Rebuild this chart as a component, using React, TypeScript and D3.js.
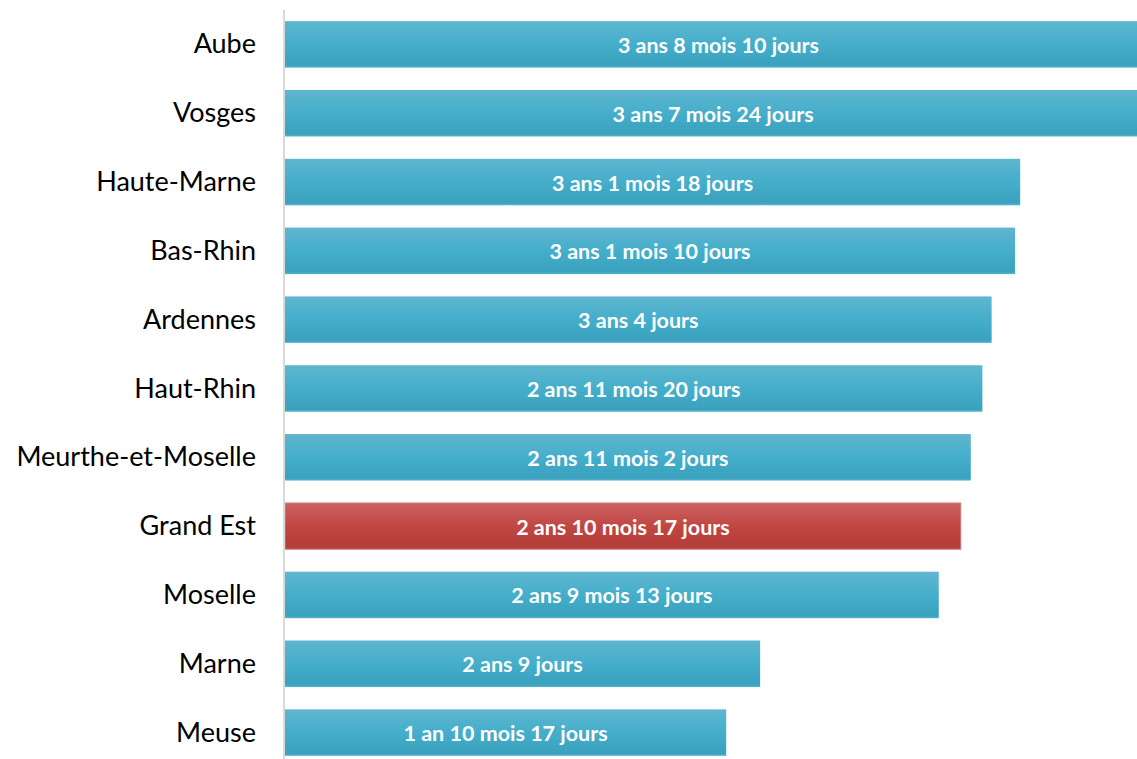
import React from 'react';
import * as d3 from 'd3';

const categories = [
  'Aube', 'Vosges', 'Haute-Marne', 'Bas-Rhin', 'Ardennes', 'Haut-Rhin',
  'Meurthe-et-Moselle', 'Grand Est', 'Moselle', 'Marne', 'Meuse',
];
// durations: [years, months, days]
const years = [3, 3, 3, 3, 3, 2, 2, 2, 2, 2, 1];
const months = [8, 7, 1, 1, 0, 11, 11, 10, 9, 0, 10];
const days = [10, 24, 18, 10, 4, 20, 2, 17, 13, 9, 17];
const valueLabels = [
  '3 ans 8 mois 10 jours', '3 ans 7 mois 24 jours', '3 ans 1 mois 18 jours',
  '3 ans 1 mois 10 jours', '3 ans 4 jours', '2 ans 11 mois 20 jours',
  '2 ans 11 mois 2 jours', '2 ans 10 mois 17 jours', '2 ans 9 mois 13 jours',
  '2 ans 9 jours', '1 an 10 mois 17 jours',
];
const highlight = 'Grand Est';

const width = 1137;
const height = 759;
const font = 'Lato, "Open Sans", sans-serif';

const totalDays = categories.map((_, i) => years[i] * 365 + months[i] * 30.42 + days[i]);

export default function App() {
  const x = d3.scaleLinear().domain([0, 1350]).range([285, 1153]);
  const y = d3.scaleBand<string>()
    .domain(categories)
    .range([10, 767])
    .paddingInner(0.324)
    .paddingOuter(0.162);
  const bh = y.bandwidth();

  return (
    <div style={{ position: 'fixed', left: 0, top: 0 }}>
      <svg width={width} height={height} style={{ display: 'block' }}>
        <defs>
          <linearGradient id="blueGrad" x1="0" y1="0" x2="0" y2="1">
            <stop offset="0%" stopColor="#5fb6cf" />
            <stop offset="50%" stopColor="#44aecb" />
            <stop offset="95%" stopColor="#3aa1be" />
            <stop offset="100%" stopColor="#5ab6cf" />
          </linearGradient>
          <linearGradient id="redGrad" x1="0" y1="0" x2="0" y2="1">
            <stop offset="0%" stopColor="#cb6464" />
            <stop offset="50%" stopColor="#c24642" />
            <stop offset="95%" stopColor="#b23d39" />
            <stop offset="100%" stopColor="#c45652" />
          </linearGradient>
        </defs>
        <rect width={width} height={height} fill="#ffffff" />
        {categories.map((c, i) => {
          const y0 = y(c)!;
          const x1 = x(totalDays[i]);
          const isHi = c === highlight;
          return (
            <g key={c}>
              <rect
                x={x(0)}
                y={y0}
                width={x1 - x(0)}
                height={bh}
                fill={isHi ? 'url(#redGrad)' : 'url(#blueGrad)'}
                stroke={isHi ? '#d98b89' : 'none'}
                strokeWidth={isHi ? 0.8 : 0}
              />
              <text
                x={256}
                y={y0 + bh / 2 - 1.5}
                textAnchor="end"
                dominantBaseline="central"
                fontFamily={font}
                fontSize={27}
                fill="#000000"
              >
                {c}
              </text>
              <text
                x={(x(0) + x1) / 2}
                y={y0 + bh / 2 + 0.5}
                textAnchor="middle"
                dominantBaseline="central"
                fontFamily={font}
                fontWeight="bold"
                fontSize={21.5}
                fill="#ffffff"
              >
                {valueLabels[i]}
              </text>
            </g>
          );
        })}
        <line x1={284} x2={284} y1={10} y2={height} stroke="#d9d9d9" strokeWidth={2} />
      </svg>
    </div>
  );
}
